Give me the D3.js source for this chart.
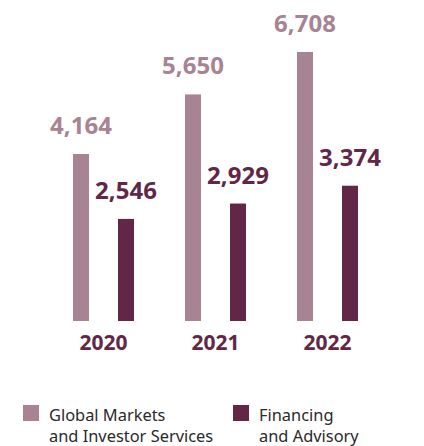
<!DOCTYPE html>
<html>
<head>
<meta charset="utf-8">
<script src="https://cdn.jsdelivr.net/npm/d3@7"></script>
<style>
  html, body { margin: 0; padding: 0; background: #fff; }
  svg { display: block; }
</style>
</head>
<body>
<svg id="chart" width="424" height="446"></svg>
<script>
// data
var years = ["2020", "2021", "2022"];
var seriesNames = ["Global Markets\nand Investor Services", "Financing\nand Advisory"];
var globalMarkets = [4164, 5650, 6708];
var financing = [2546, 2929, 3374];
var colors = ["#a78393", "#622746"];

var svg = d3.select("#chart");
var baseY = 321;

// x scales: groups per year, then bar offset inside the group
var x0 = d3.scaleBand().domain(years).range([47.5, 383.5]);
var x1 = d3.scalePoint().domain([0, 1]).range([-22.5, 22.5]);
var y = d3.scaleLinear().domain([0, d3.max(globalMarkets)]).range([baseY, 52]);
var barW = 16;

var rows = [];
years.forEach(function(yr, i){
	rows.push({year: yr, s: 0, v: globalMarkets[i]});
	rows.push({year: yr, s: 1, v: financing[i]});
});

// unit caption, mostly above the top edge like in the source
svg.append("text")
	.attr("x", 215).attr("y", -3)
	.attr("text-anchor", "middle")
	.style("font-family", "Noto Sans").style("font-size", "17px")
	.style("fill", colors[0])
	.text("(€ mn)");

function cx(d){ return x0(d.year) + x0.bandwidth() / 2 + x1(d.s); }

svg.selectAll("rect.bar")
	.data(rows)
	.enter()
	.append("rect")
	.attr("class", "bar")
	.attr("x", function(d){ return cx(d) - barW / 2; })
	.attr("y", function(d){ return y(d.v); })
	.attr("width", barW)
	.attr("height", function(d){ return baseY - y(d.v); })
	.style("fill", function(d){ return colors[d.s]; });

// value labels
svg.selectAll("text.val")
	.data(rows)
	.enter()
	.append("text")
	.attr("class", "val")
	.attr("x", function(d){ return cx(d); })
	.attr("y", function(d){ return y(d.v) - 20; })
	.attr("text-anchor", "middle")
	.style("font-family", "Noto Sans").style("font-weight", "700").style("font-size", "24px")
	.style("fill", function(d){ return colors[d.s]; })
	.text(function(d){ return d3.format(",")(d.v); });

// year labels
svg.selectAll("text.year")
	.data(years)
	.enter()
	.append("text")
	.attr("class", "year")
	.attr("x", function(d){ return x0(d) + x0.bandwidth() / 2; })
	.attr("y", 350)
	.attr("text-anchor", "middle")
	.style("font-family", "Noto Sans").style("font-weight", "700").style("font-size", "21px")
	.style("fill", colors[1])
	.text(function(d){ return d; });

// legend
var legendX = [23, 233];
var lg = svg.selectAll("g.legend")
	.data(seriesNames)
	.enter()
	.append("g")
	.attr("class", "legend")
	.attr("transform", function(d, i){ return "translate(" + legendX[i] + ",405)"; });

lg.append("rect")
	.attr("width", 16).attr("height", 16)
	.style("fill", function(d, i){ return colors[i]; });

lg.append("text")
	.attr("x", 26)
	.style("font-family", "Noto Sans").style("font-size", "16.4px")
	.style("fill", "#2a2a2a")
	.selectAll("tspan")
	.data(function(d){ return d.split("\n"); })
	.enter()
	.append("tspan")
	.attr("x", 26)
	.attr("y", function(d, i){ return 16 + i * 21; })
	.text(function(d){ return d; });
</script>
</body>
</html>
